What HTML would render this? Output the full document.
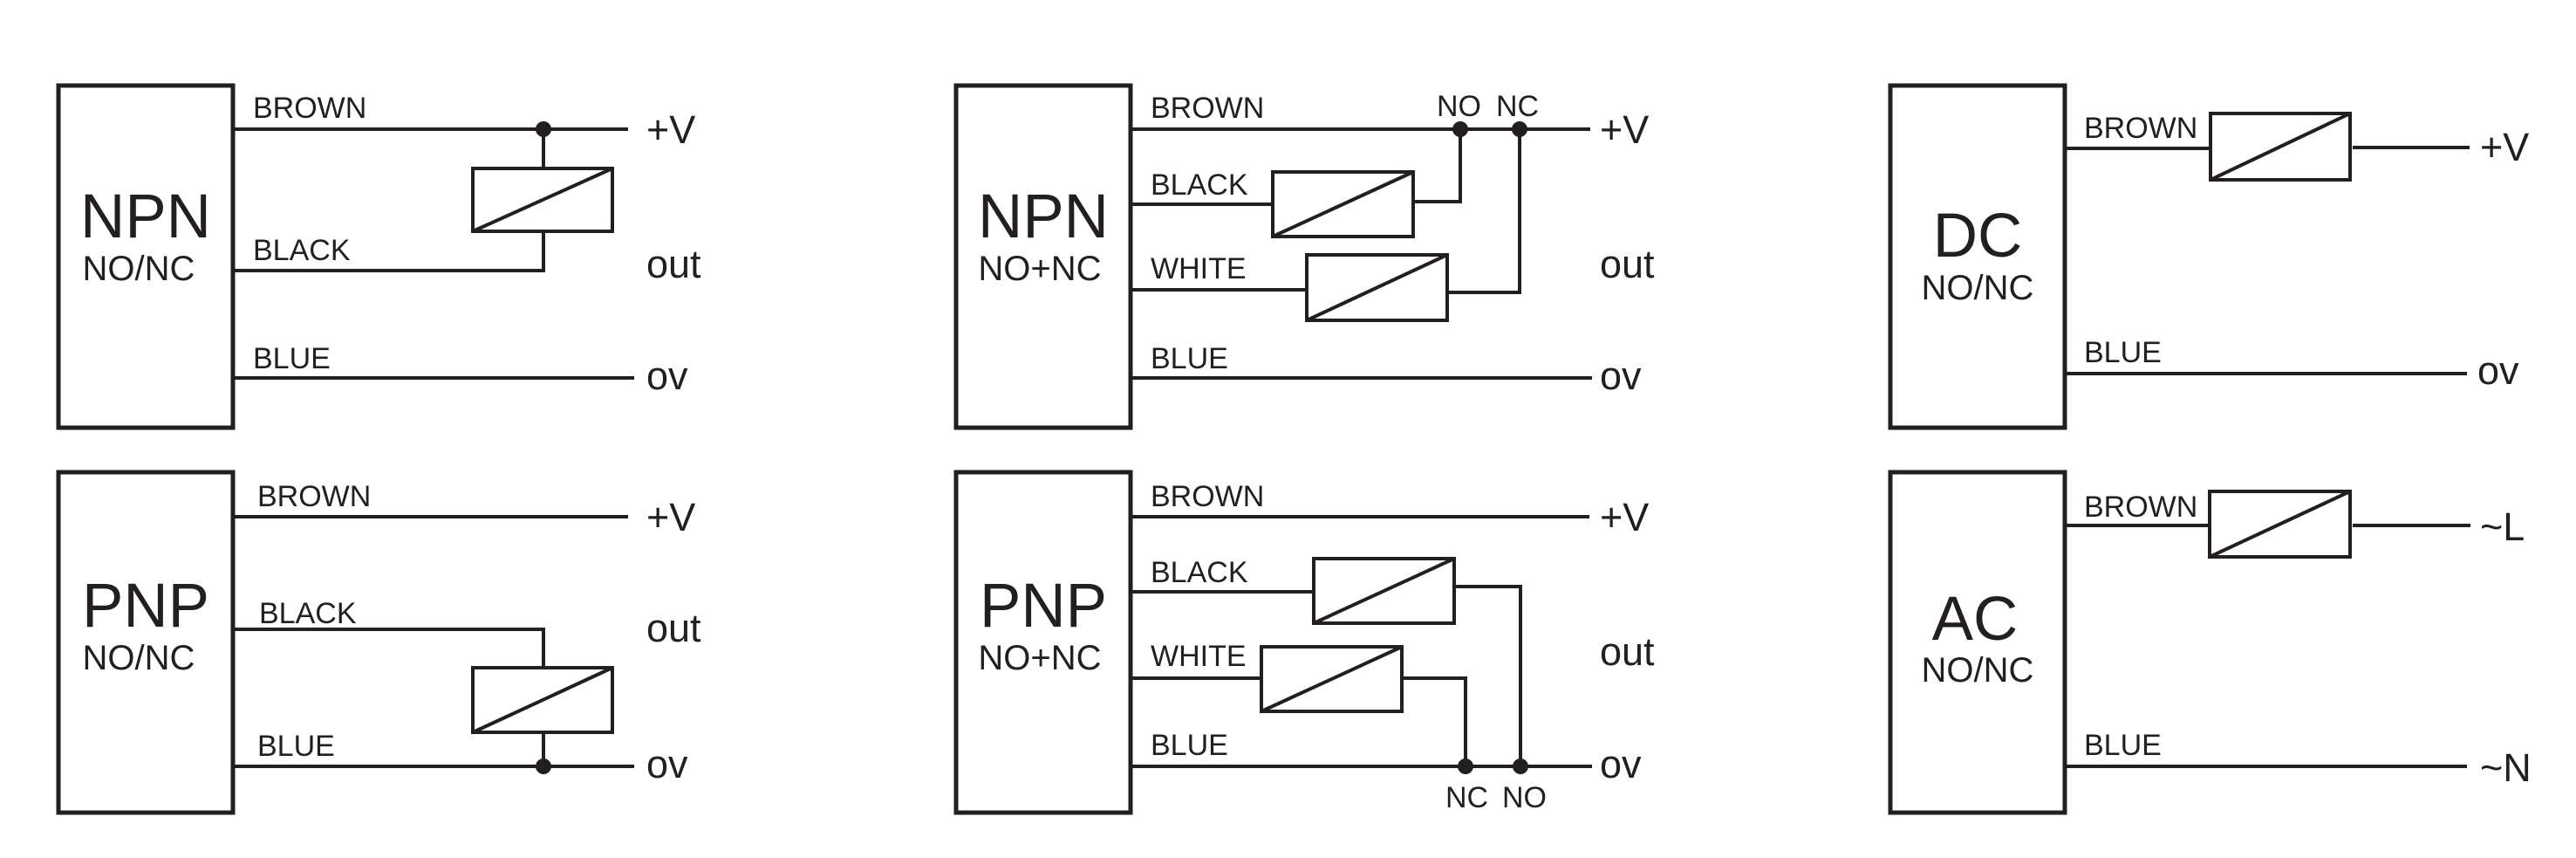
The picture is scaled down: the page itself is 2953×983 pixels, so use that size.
<!DOCTYPE html>
<html><head><meta charset="utf-8"><style>
html,body{margin:0;padding:0;background:#fff;}
svg{display:block;}
text{font-family:"Liberation Sans",Arial,sans-serif;fill:#231f20;}
.w{font-size:34px}
.big{font-size:71px}
.sub{font-size:40px}
.t{font-size:45px}
.s{font-size:34px}
</style></head><body>
<svg width="2953" height="983" viewBox="0 0 2953 983" xmlns="http://www.w3.org/2000/svg">
<g fill="none" stroke="#231f20" stroke-width="5">
<rect x="67" y="98" width="200" height="392"/>
<rect x="67" y="541" width="200" height="390"/>
<rect x="1096" y="98" width="200" height="392"/>
<rect x="1096" y="541" width="200" height="390"/>
<rect x="2167" y="98" width="200" height="392"/>
<rect x="2167" y="541" width="200" height="390"/>
</g>
<g fill="none" stroke="#231f20" stroke-width="4">
<!-- NPN left -->
<polyline points="267,148 720,148"/>
<polyline points="623,148 623,193"/>
<polyline points="267,310 623,310 623,265"/>
<polyline points="267,433 727,433"/>
<rect x="542" y="193" width="160" height="72"/>
<line x1="542" y1="265" x2="702" y2="193"/>
<!-- PNP left -->
<polyline points="267,592 720,592"/>
<polyline points="267,721 623,721 623,765"/>
<rect x="542" y="765" width="160" height="74"/>
<line x1="542" y1="839" x2="702" y2="765"/>
<polyline points="623,839 623,878"/>
<polyline points="267,878 727,878"/>
<!-- NPN mid -->
<polyline points="1296,148 1823,148"/>
<polyline points="1296,234 1459,234"/>
<rect x="1459" y="197" width="161" height="74"/>
<line x1="1459" y1="271" x2="1620" y2="197"/>
<polyline points="1620,231 1674,231 1674,148"/>
<polyline points="1296,332 1498,332"/>
<rect x="1498" y="292" width="161" height="75"/>
<line x1="1498" y1="367" x2="1659" y2="292"/>
<polyline points="1659,335 1742,335 1742,148"/>
<polyline points="1296,433 1825,433"/>
<!-- PNP mid -->
<polyline points="1296,592 1822,592"/>
<polyline points="1296,678 1506,678"/>
<rect x="1506" y="640" width="161" height="74"/>
<line x1="1506" y1="714" x2="1667" y2="640"/>
<polyline points="1667,672 1743,672 1743,878"/>
<polyline points="1296,777 1446,777"/>
<rect x="1446" y="741" width="161" height="74"/>
<line x1="1446" y1="815" x2="1607" y2="741"/>
<polyline points="1607,777 1680,777 1680,878"/>
<polyline points="1296,878 1825,878"/>
<!-- DC -->
<polyline points="2367,170 2534,170"/>
<rect x="2534" y="130" width="160" height="76"/>
<line x1="2534" y1="206" x2="2694" y2="130"/>
<polyline points="2697,169 2831,169"/>
<polyline points="2367,428 2828,428"/>
<!-- AC -->
<polyline points="2367,602 2533,602"/>
<rect x="2533" y="563" width="161" height="75"/>
<line x1="2533" y1="638" x2="2694" y2="563"/>
<polyline points="2697,602 2832,602"/>
<polyline points="2367,878 2828,878"/>
</g>
<g fill="#231f20">
<circle cx="623" cy="148" r="9"/>
<circle cx="623" cy="878" r="9"/>
<circle cx="1674" cy="148" r="9"/>
<circle cx="1742" cy="148" r="9"/>
<circle cx="1680" cy="878" r="9"/>
<circle cx="1743" cy="878" r="9"/>
</g>
<!-- wire labels -->
<text class="w" x="290" y="135">BROWN</text>
<text class="w" x="290" y="298">BLACK</text>
<text class="w" x="290" y="422">BLUE</text>
<text class="w" x="295" y="580">BROWN</text>
<text class="w" x="297" y="714">BLACK</text>
<text class="w" x="295" y="866">BLUE</text>
<text class="w" x="1319" y="135">BROWN</text>
<text class="w" x="1319" y="223">BLACK</text>
<text class="w" x="1319" y="319">WHITE</text>
<text class="w" x="1319" y="422">BLUE</text>
<text class="w" x="1319" y="580">BROWN</text>
<text class="w" x="1319" y="667">BLACK</text>
<text class="w" x="1319" y="763">WHITE</text>
<text class="w" x="1319" y="865">BLUE</text>
<text class="w" x="1647" y="133">NO</text>
<text class="w" x="1715" y="133">NC</text>
<text class="w" x="1657" y="925">NC</text>
<text class="w" x="1722" y="925">NO</text>
<text class="w" x="2389" y="158">BROWN</text>
<text class="w" x="2389" y="415">BLUE</text>
<text class="w" x="2389" y="592">BROWN</text>
<text class="w" x="2389" y="865">BLUE</text>
<!-- terminal labels -->
<text class="t" x="741" y="164">+V</text>
<text class="t" x="741" y="318">out</text>
<text class="t" x="741" y="446">ov</text>
<text class="t" x="741" y="608">+V</text>
<text class="t" x="741" y="735">out</text>
<text class="t" x="741" y="891">ov</text>
<text class="t" x="1834" y="164">+V</text>
<text class="t" x="1834" y="318">out</text>
<text class="t" x="1834" y="446">ov</text>
<text class="t" x="1834" y="608">+V</text>
<text class="t" x="1834" y="762">out</text>
<text class="t" x="1834" y="891">ov</text>
<text class="t" x="2843" y="184">+V</text>
<text class="t" x="2840" y="440">ov</text>
<text class="t" x="2843" y="619">~L</text>
<text class="t" x="2843" y="895">~N</text>
<!-- box labels -->
<text class="big" x="167" y="272" text-anchor="middle">NPN</text>
<text class="sub" x="159" y="321" text-anchor="middle">NO/NC</text>
<text class="big" x="167" y="718" text-anchor="middle">PNP</text>
<text class="sub" x="159" y="767" text-anchor="middle">NO/NC</text>
<text class="big" x="1196" y="272" text-anchor="middle">NPN</text>
<text class="sub" x="1192" y="321" text-anchor="middle">NO+NC</text>
<text class="big" x="1196" y="718" text-anchor="middle">PNP</text>
<text class="sub" x="1192" y="767" text-anchor="middle">NO+NC</text>
<text class="big" x="2267" y="294" text-anchor="middle">DC</text>
<text class="sub" x="2267" y="343" text-anchor="middle">NO/NC</text>
<text class="big" x="2264" y="733" text-anchor="middle">AC</text>
<text class="sub" x="2267" y="781" text-anchor="middle">NO/NC</text>
</svg>
</body></html>
